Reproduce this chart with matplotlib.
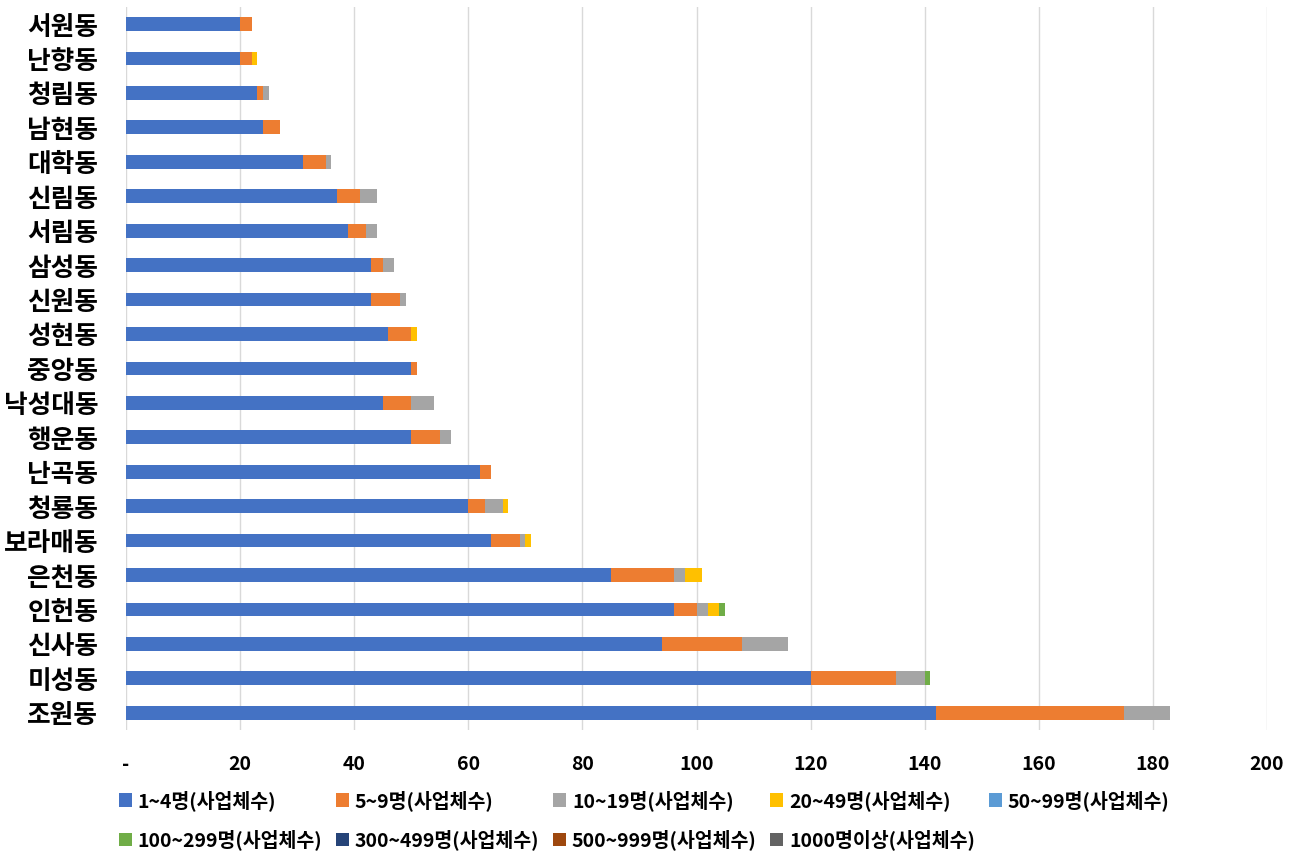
import matplotlib
matplotlib.use("Agg")
import matplotlib.pyplot as plt
import numpy as np

plt.rcParams['font.family'] = ['Noto Sans CJK KR', 'DejaVu Sans']

categories = ["서원동", "난향동", "청림동", "남현동", "대학동", "신림동", "서림동", "삼성동",
              "신원동", "성현동", "중앙동", "낙성대동", "행운동", "난곡동", "청룡동", "보라매동",
              "은천동", "인헌동", "신사동", "미성동", "조원동"]

s_1_4 = [20, 20, 23, 24, 31, 37, 39, 43, 43, 46, 50, 45, 50, 62, 60, 64, 85, 96, 94, 120, 142]
s_5_9 = [2, 2, 1, 3, 4, 4, 3, 2, 5, 4, 1, 5, 5, 2, 3, 5, 11, 4, 14, 15, 33]
s_10_19 = [0, 0, 1, 0, 1, 3, 2, 2, 1, 0, 0, 4, 2, 0, 3, 1, 2, 2, 8, 5, 8]
s_20_49 = [0, 1, 0, 0, 0, 0, 0, 0, 0, 1, 0, 0, 0, 0, 1, 1, 3, 2, 0, 0, 0]
s_50_99 = [0] * 21
s_100_299 = [0, 0, 0, 0, 0, 0, 0, 0, 0, 0, 0, 0, 0, 0, 0, 0, 0, 1, 0, 1, 0]
s_300_499 = [0] * 21
s_500_999 = [0] * 21
s_1000 = [0] * 21

series_labels = ["1~4명(사업체수)", "5~9명(사업체수)", "10~19명(사업체수)", "20~49명(사업체수)",
                 "50~99명(사업체수)", "100~299명(사업체수)", "300~499명(사업체수)",
                 "500~999명(사업체수)", "1000명이상(사업체수)"]
series = [s_1_4, s_5_9, s_10_19, s_20_49, s_50_99, s_100_299, s_300_499, s_500_999, s_1000]
colors = ["#4472C4", "#ED7D31", "#A5A5A5", "#FFC000", "#5B9BD5", "#70AD47",
          "#264478", "#9E480E", "#636363"]

xticks = [0, 20, 40, 60, 80, 100, 120, 140, 160, 180, 200]
xtick_labels = ["-", "20", "40", "60", "80", "100", "120", "140", "160", "180", "200"]

fig = plt.figure(figsize=(13.03, 8.61), dpi=100)
ax = fig.add_axes([126/1303, 1 - 730/861, (1267-126)/1303, (730-6.8)/861])

y = np.arange(len(categories))
left = np.zeros(len(categories))
handles = []
for vals, lab, col in zip(series, series_labels, colors):
    v = np.array(vals, dtype=float)
    h = ax.barh(y, v, left=left, height=0.4, color=col, label=lab, zorder=3)
    handles.append(h)
    left += v

ax.set_ylim(len(categories) - 0.5, -0.5)
ax.set_xlim(0, 200)
ax.set_xticks(xticks)
ax.set_xticklabels(xtick_labels, fontsize=14, fontweight='bold')
ax.set_yticks(y)
ax.set_yticklabels(categories, fontsize=18.5, fontweight='bold')
ax.tick_params(axis='y', length=0, pad=20)
ax.tick_params(axis='x', length=0, pad=18)
ax.grid(axis='x', color='#D9D9D9', linewidth=1, zorder=0)
for s in ax.spines.values():
    s.set_visible(False)

order = [0, 5, 1, 6, 2, 7, 3, 8, 4]
leg = fig.legend([handles[i] for i in order], [series_labels[i] for i in order],
                 ncol=5, loc='upper left', bbox_to_anchor=(119/1303, 1 - 790/861),
                 frameon=False, borderpad=0, borderaxespad=0,
                 prop={'size': 14, 'weight': 'bold'}, handlelength=0.67, handleheight=0.67,
                 handletextpad=0.3, columnspacing=0.7, labelspacing=0.97)

fig.savefig("out.png", dpi=100)
